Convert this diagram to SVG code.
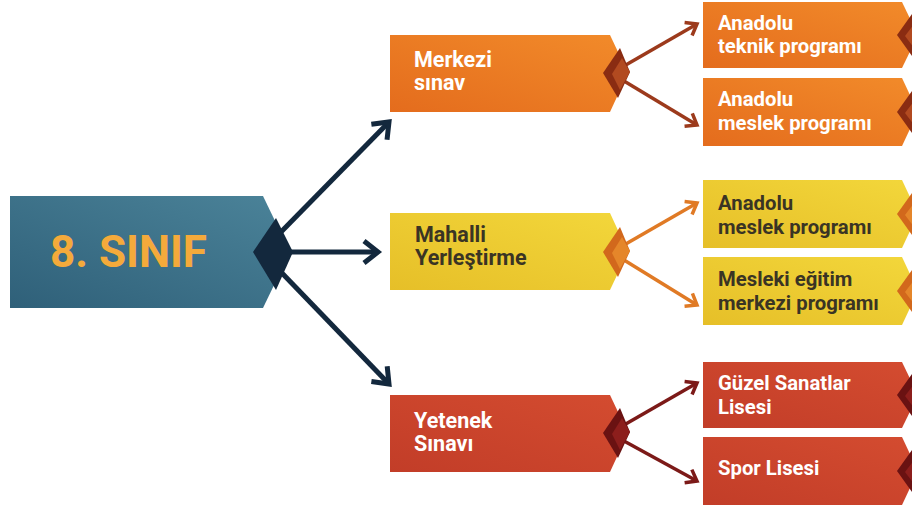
<svg xmlns="http://www.w3.org/2000/svg" width="912" height="509" viewBox="0 0 912 509">
<style>
.t{font-family:Roboto,"Liberation Sans",Arial,sans-serif;font-weight:700;}
.main{font-size:44px;fill:#f4aa3b;}
.l2{font-size:21.5px;}
.l3{font-size:20.3px;}
.w{fill:#ffffff;}
.d{fill:#3a3424;}
.cn{fill:none;stroke-linecap:butt;}
</style>
<defs>
<linearGradient id="gBlue" x1="0" y1="1" x2="1" y2="0"><stop offset="0" stop-color="#2f6079"/><stop offset="1" stop-color="#4b8399"/></linearGradient>
<linearGradient id="gOr" x1="0" y1="1" x2="1" y2="0"><stop offset="0" stop-color="#e46c1d"/><stop offset="1" stop-color="#f28b2a"/></linearGradient>
<linearGradient id="gYe" x1="0" y1="1" x2="1" y2="0"><stop offset="0" stop-color="#e6bf28"/><stop offset="1" stop-color="#f3d73b"/></linearGradient>
<linearGradient id="gRe" x1="0" y1="1" x2="1" y2="0"><stop offset="0" stop-color="#c23d28"/><stop offset="1" stop-color="#d44c30"/></linearGradient>
<marker id="aNavy" markerUnits="userSpaceOnUse" viewBox="0 0 24 28" markerWidth="24" markerHeight="28" refX="18" refY="14" orient="auto"><path d="M4,3 L18,14 L4,25" fill="none" stroke="#13283d" stroke-width="5" stroke-linejoin="miter"/></marker>
<marker id="aBrown" markerUnits="userSpaceOnUse" viewBox="0 0 18 20" markerWidth="18" markerHeight="20" refX="14" refY="10" orient="auto"><path d="M4,2.5 L14,10 L4,17.5" fill="none" stroke="#9c3a1c" stroke-width="3.5"/></marker>
<marker id="aOrange" markerUnits="userSpaceOnUse" viewBox="0 0 18 20" markerWidth="18" markerHeight="20" refX="14" refY="10" orient="auto"><path d="M4,2.5 L14,10 L4,17.5" fill="none" stroke="#e07a25" stroke-width="3.5"/></marker>
<marker id="aRed" markerUnits="userSpaceOnUse" viewBox="0 0 18 20" markerWidth="18" markerHeight="20" refX="14" refY="10" orient="auto"><path d="M4,2.5 L14,10 L4,17.5" fill="none" stroke="#7c1a18" stroke-width="3.5"/></marker>
</defs>
<rect width="912" height="509" fill="#ffffff"/>

<g id="connectors">
<line class="cn" x1="280" y1="233" x2="389" y2="122" stroke="#13283d" stroke-width="5" marker-end="url(#aNavy)"/>
<line class="cn" x1="290" y1="252" x2="378" y2="252" stroke="#13283d" stroke-width="5" marker-end="url(#aNavy)"/>
<line class="cn" x1="280" y1="271" x2="389" y2="384" stroke="#13283d" stroke-width="5" marker-end="url(#aNavy)"/>
<line class="cn" x1="624" y1="66" x2="697" y2="24" stroke="#9c3a1c" stroke-width="3.5" marker-end="url(#aBrown)"/>
<line class="cn" x1="624" y1="81" x2="697" y2="125" stroke="#9c3a1c" stroke-width="3.5" marker-end="url(#aBrown)"/>
<line class="cn" x1="624" y1="245" x2="697" y2="203" stroke="#e07a25" stroke-width="3.5" marker-end="url(#aOrange)"/>
<line class="cn" x1="624" y1="260" x2="697" y2="305" stroke="#e07a25" stroke-width="3.5" marker-end="url(#aOrange)"/>
<line class="cn" x1="624" y1="425" x2="697" y2="383" stroke="#7c1a18" stroke-width="3.5" marker-end="url(#aRed)"/>
<line class="cn" x1="624" y1="441" x2="697" y2="481" stroke="#7c1a18" stroke-width="3.5" marker-end="url(#aRed)"/>
</g>

<g id="n-sinif">
<polygon points="10,196 263,196 290,252 263,308 10,308" fill="url(#gBlue)"/>
<polygon points="253,252 276,218 293,252 276,290" fill="#13283d"/>
<text class="t main" x="50" y="267">8. SINIF</text>
</g>

<g id="n-merkezi">
<polygon points="390,35 610,35 628,73 610,112 390,112" fill="url(#gOr)"/>
<polygon points="603,73 620,48 630,72 618,98" fill="#8a2c12"/>
<polygon points="612,74 622,58 630,72 620,90" fill="#b24a20"/>
<text class="t l2 w" x="414" y="67">Merkezi</text>
<text class="t l2 w" x="414" y="90">sınav</text>
</g>

<g id="n-mahalli">
<polygon points="390,213 610,213 628,252 610,290 390,290" fill="url(#gYe)"/>
<polygon points="603,252 620,227 630,251 618,277" fill="#d2681c"/>
<polygon points="612,253 622,237 630,251 620,269" fill="#e5862a"/>
<text class="t l2 d" x="415" y="242">Mahalli</text>
<text class="t l2 d" x="415" y="265">Yerleştirme</text>
</g>

<g id="n-yetenek">
<polygon points="390,395 610,395 628,433 610,472 390,472" fill="url(#gRe)"/>
<polygon points="603,433 620,408 630,432 618,458" fill="#6a1212"/>
<polygon points="612,434 622,418 630,432 620,450" fill="#8c1e1c"/>
<text class="t l2 w" x="414" y="428">Yetenek</text>
<text class="t l2 w" x="414" y="451">Sınavı</text>
</g>

<g id="n-anadolu-teknik">
<polygon points="703,2 902,2 918,35 902,68 703,68" fill="url(#gOr)"/>
<polygon points="897,35 912,14 924,35 912,56" fill="#8a2c12"/>
<polygon points="905,36 914,24 924,35 914,48" fill="#b24a20"/>
<text class="t l3 w" x="718" y="30">Anadolu</text>
<text class="t l3 w" x="718" y="53">teknik programı</text>
</g>

<g id="n-anadolu-meslek-1">
<polygon points="703,78 902,78 918,112 902,146 703,146" fill="url(#gOr)"/>
<polygon points="897,112 912,91 924,112 912,133" fill="#8a2c12"/>
<polygon points="905,113 914,101 924,112 914,125" fill="#b24a20"/>
<text class="t l3 w" x="718" y="106">Anadolu</text>
<text class="t l3 w" x="718" y="130">meslek programı</text>
</g>

<g id="n-anadolu-meslek-2">
<polygon points="703,180 902,180 918,214 902,248 703,248" fill="url(#gYe)"/>
<polygon points="897,214 912,193 924,214 912,235" fill="#d2681c"/>
<polygon points="905,215 914,203 924,214 914,227" fill="#e5862a"/>
<text class="t l3 d" x="718" y="210">Anadolu</text>
<text class="t l3 d" x="718" y="234">meslek programı</text>
</g>

<g id="n-mesleki-egitim">
<polygon points="703,257 902,257 918,291 902,325 703,325" fill="url(#gYe)"/>
<polygon points="897,291 912,270 924,291 912,312" fill="#d2681c"/>
<polygon points="905,292 914,280 924,291 914,304" fill="#e5862a"/>
<text class="t l3 d" x="718" y="286">Mesleki eğitim</text>
<text class="t l3 d" x="718" y="310">merkezi programı</text>
</g>

<g id="n-guzel-sanatlar">
<polygon points="703,362 902,362 918,395 902,428 703,428" fill="url(#gRe)"/>
<polygon points="897,395 912,374 924,395 912,416" fill="#6a1212"/>
<polygon points="905,396 914,384 924,395 914,408" fill="#8c1e1c"/>
<text class="t l3 w" x="718" y="390">Güzel Sanatlar</text>
<text class="t l3 w" x="718" y="414">Lisesi</text>
</g>

<g id="n-spor">
<polygon points="703,437 902,437 918,471 902,505 703,505" fill="url(#gRe)"/>
<polygon points="897,471 912,450 924,471 912,492" fill="#6a1212"/>
<polygon points="905,472 914,460 924,471 914,484" fill="#8c1e1c"/>
<text class="t l3 w" x="718" y="475">Spor Lisesi</text>
</g>
</svg>
